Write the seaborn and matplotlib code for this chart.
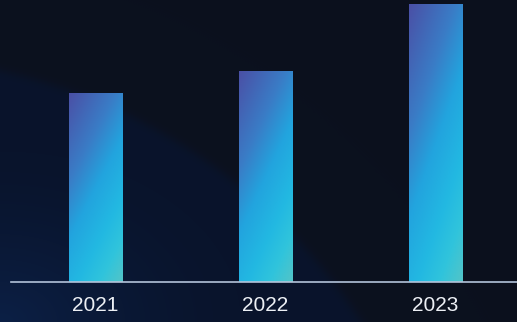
import numpy as np
import pandas as pd
import seaborn as sns
import matplotlib.pyplot as plt
from matplotlib.colors import LinearSegmentedColormap, to_rgb

years = ["2021", "2022", "2023"]
values = [68, 76, 100]

df = pd.DataFrame({"year": years, "value": values})

sns.set_theme(style="white")
plt.rcParams["font.family"] = ["Liberation Sans", "DejaVu Sans"]

W, H = 517, 322
fig = plt.figure(figsize=(W / 100, H / 100), dpi=100)

# background: dark navy with a slightly bluer arc region at lower left
yy, xx = np.mgrid[0:H, 0:W]
outer = np.array(to_rgb("#0c111e"))
inner = np.array(to_rgb("#09142c"))
corner = np.array(to_rgb("#0c2046"))
d = np.hypot(xx + 124, yy - 634) - 577
inside = 1 / (1 + np.exp(d / 3.0))
glow = np.clip(1 - np.hypot(xx / 240, (H - yy) / 170), 0, 1) ** 1.5
bg = outer[None, None, :] * (1 - inside[..., None]) + inner[None, None, :] * inside[..., None]
bg = bg * (1 - glow[..., None]) + corner[None, None, :] * glow[..., None]
ax_bg = fig.add_axes([0, 0, 1, 1], zorder=-1)
ax_bg.imshow(bg, aspect="auto", extent=(0, 1, 0, 1))
ax_bg.axis("off")

ax = fig.add_axes([11 / W, 40 / H, 506 / W, 282 / H])
ax.set_facecolor("none")
sns.barplot(data=df, x="year", y="value", width=0.312, color="#1fa9e0", ax=ax)

cmap = LinearSegmentedColormap.from_list(
    "bar", [(0, "#4a50a6"), (0.3, "#3a7cc6"), (0.5, "#22a4de"),
            (0.7, "#22b8e2"), (0.85, "#30c4dc"), (1, "#52c4c8")]
)
v, u = np.mgrid[0:1:200j, 0:1:60j]
t = np.clip(0.65 * v + 0.35 * u, 0, 1)
for p in ax.patches:
    x0, y0 = p.get_x(), p.get_y()
    x1, y1 = x0 + p.get_width(), y0 + p.get_height()
    ax.imshow(t, cmap=cmap, vmin=0, vmax=1, extent=(x0, x1, y0, y1),
              aspect="auto", origin="upper", zorder=2)
    p.set_facecolor("none")
    p.set_edgecolor("none")

ax.set_xlim(-0.497, 2.479)
ax.set_ylim(0, 101.8)
sns.despine(ax=ax, left=True, top=True, right=True)
ax.spines["bottom"].set_color("#b3c3da")
ax.spines["bottom"].set_linewidth(1.2)
ax.spines["bottom"].set_zorder(3)
ax.set_yticks([])
ax.set_xlabel("")
ax.set_ylabel("")
ax.tick_params(axis="x", length=0, pad=10, labelsize=15, labelcolor="#eceff4")

fig.savefig("out.png", dpi=100)
